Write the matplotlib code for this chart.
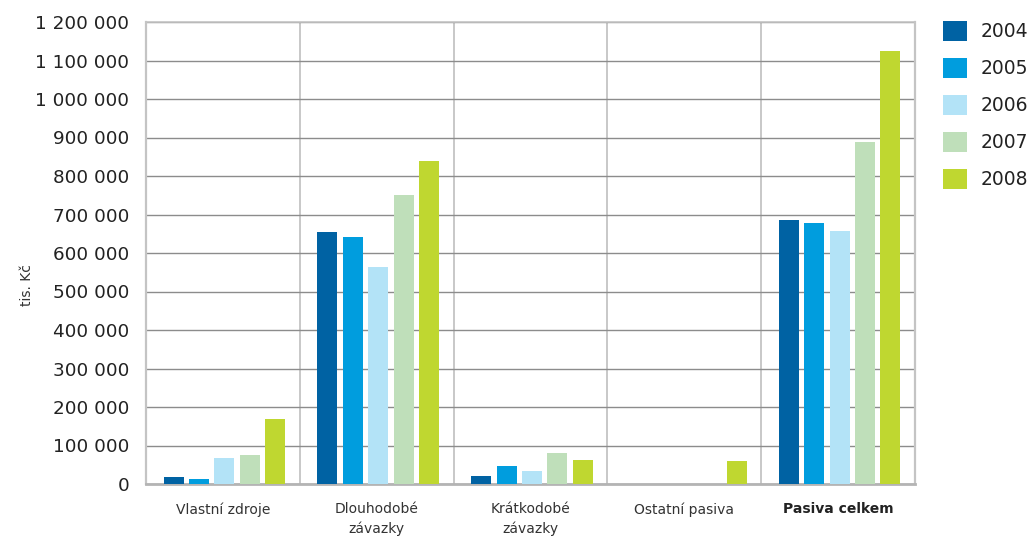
import matplotlib
matplotlib.use("Agg")
import matplotlib.pyplot as plt
import numpy as np

categories = ["Vlastní zdroje", "Dlouhodobé\nzávazky", "Krátkodobé\nzávazky",
              "Ostatní pasiva", "Pasiva celkem"]
years = ["2004", "2005", "2006", "2007", "2008"]

# values in thousands CZK, one list per year (order of categories)
v2004 = [18000, 655000, 21000, 0, 686000]
v2005 = [13000, 642000, 47000, 0, 678000]
v2006 = [68000, 564000, 34000, 0, 657000]
v2007 = [75000, 751000, 81000, 0, 888000]
v2008 = [169000, 839000, 62000, 60000, 1125000]
series = [v2004, v2005, v2006, v2007, v2008]

colors = ["#0062A3", "#009DDE", "#B3E3F7", "#BFDFBA", "#BFD730"]

yticks = list(range(0, 1200001, 100000))
ytick_labels = ["0" if t == 0 else f"{t:,}".replace(",", " ") for t in yticks]

plt.rcParams["font.family"] = ["DejaVu Sans"]

fig = plt.figure(figsize=(10.33, 5.38), dpi=100)
ax = fig.add_axes([146 / 1033, 54 / 538, (915 - 146) / 1033, (484 - 22) / 538])

x = np.arange(len(categories))
bar_w = 0.13
step = 0.165
handles = []
for i, (vals, col, yr) in enumerate(zip(series, colors, years)):
    b = ax.bar(x + (i - 2) * step + 0.01, vals, width=bar_w, color=col, label=yr,
               zorder=3, linewidth=0)
    handles.append(b)

ax.set_xlim(-0.5, len(categories) - 0.5)
ax.set_ylim(0, 1200000)
ax.set_yticks(yticks)
ax.set_yticklabels(ytick_labels, fontsize=13.2, color="#222222")
ax.tick_params(axis="y", length=0, pad=12)

ax.set_xticks(x)
ax.set_xticklabels(categories, fontsize=10, color="#333333", linespacing=1.45)
ax.tick_params(axis="x", length=0, pad=13)
ax.get_xticklabels()[-1].set_fontweight("bold")
ax.get_xticklabels()[-1].set_color("#222222")

# horizontal gridlines
ax.yaxis.grid(True, color="#8c8c8c", linewidth=1.0, zorder=1)
# vertical group separators
for sep in x[:-1] + 0.5:
    ax.axvline(sep, color="#c4c4c4", linewidth=1.3, zorder=1)

for side in ["left", "right", "top", "bottom"]:
    ax.spines[side].set_color("#c4c4c4")
    ax.spines[side].set_linewidth(1.6)
ax.spines["top"].set_linewidth(1.2)
ax.spines["bottom"].set_color("#b4b4b4")
ax.spines["bottom"].set_linewidth(2.0)

fig.text(27 / 1033, 1 - 285 / 538, "tis. Kč", rotation=90, ha="center",
         va="center", fontsize=10, color="#333333")

leg = fig.legend(handles=handles, labels=years, loc="upper left",
                 bbox_to_anchor=(943 / 1033, 1 - 21 / 538),
                 frameon=False, fontsize=13.5, handlelength=1.28,
                 handleheight=1.23, handletextpad=0.72, labelspacing=0.9,
                 borderpad=0, borderaxespad=0)
for t in leg.get_texts():
    t.set_color("#222222")

fig.savefig("out.png", dpi=100, facecolor="white")
